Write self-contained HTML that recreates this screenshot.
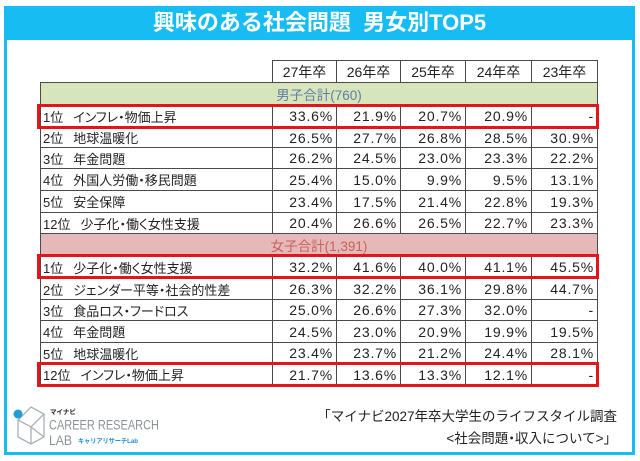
<!DOCTYPE html>
<html><head><meta charset="utf-8">
<style>
*{margin:0;padding:0;box-sizing:border-box}
html,body{width:640px;height:461px;background:#fff;overflow:hidden}
body{position:relative;font-family:"Liberation Sans","Noto Sans CJK JP",sans-serif;color:#222}
.frame{position:absolute;left:4px;top:6px;width:631px;height:449px;border:3px solid #17bdf2;}
.title{position:absolute;left:4px;top:6px;width:631px;height:34px;background:#17bdf2;color:#fff;font-size:22px;font-weight:bold;text-align:center;line-height:33px;white-space:pre;font-family:"Liberation Sans","Noto Sans CJK JP",sans-serif}
table{position:absolute;left:40px;top:60px;border-collapse:collapse;table-layout:fixed;width:557px}
td{border:1px solid #4a4a4a;white-space:nowrap;overflow:hidden;padding:0;vertical-align:middle}
td.l{font-size:13px;padding-left:2px;font-feature-settings:"palt";}
td.n{font-size:14px;text-align:right;padding-right:3px;letter-spacing:0.8px;font-family:"Liberation Sans",sans-serif}
td.h{font-size:14px;text-align:center;font-feature-settings:"palt"}
td.e{border:none}
tr.mb td{background:#d8e4bc;color:#5f7ea6;text-align:center;font-size:13.5px}
tr.fb td{background:#e6b9b8;color:#c6615c;text-align:center;font-size:13.5px}
.sp{display:inline-block;width:10px}
.rb{position:absolute;border:3px solid #e3141b;left:37px;width:562px}
.foot{position:absolute;right:23px;font-size:13.5px;text-align:right;white-space:nowrap;color:#222}
.dot{font-feature-settings:"palt"}
</style></head><body>
<div class="frame"></div>
<div class="title">興味のある社会問題  男女別TOP5</div>
<table>
<colgroup><col style="width:232px"><col style="width:64px"><col style="width:64px"><col style="width:65px"><col style="width:66px"><col style="width:66px"></colgroup>
<tr style="height:22px"><td class="e"></td><td class="h">27年卒</td><td class="h">26年卒</td><td class="h">25年卒</td><td class="h">24年卒</td><td class="h">23年卒</td></tr>
<tr class="mb" style="height:22px"><td colspan="6">男子合計(760)</td></tr>
<tr style="height:23px"><td class="l">1位<span class="sp"></span>インフレ・物価上昇</td><td class="n">33.6%</td><td class="n">21.9%</td><td class="n">20.7%</td><td class="n">20.9%</td><td class="n">-</td></tr>
<tr style="height:20px"><td class="l">2位<span class="sp"></span>地球温暖化</td><td class="n">26.5%</td><td class="n">27.7%</td><td class="n">26.8%</td><td class="n">28.5%</td><td class="n">30.9%</td></tr>
<tr style="height:21px"><td class="l">3位<span class="sp"></span>年金問題</td><td class="n">26.2%</td><td class="n">24.5%</td><td class="n">23.0%</td><td class="n">23.3%</td><td class="n">22.2%</td></tr>
<tr style="height:22px"><td class="l">4位<span class="sp"></span>外国人労働・移民問題</td><td class="n">25.4%</td><td class="n">15.0%</td><td class="n">9.9%</td><td class="n">9.5%</td><td class="n">13.1%</td></tr>
<tr style="height:22px"><td class="l">5位<span class="sp"></span>安全保障</td><td class="n">23.4%</td><td class="n">17.5%</td><td class="n">21.4%</td><td class="n">22.8%</td><td class="n">19.3%</td></tr>
<tr style="height:21px"><td class="l">12位<span class="sp"></span>少子化・働く女性支援</td><td class="n">20.4%</td><td class="n">26.6%</td><td class="n">26.5%</td><td class="n">22.7%</td><td class="n">23.3%</td></tr>
<tr class="fb" style="height:22px"><td colspan="6">女子合計(1,391)</td></tr>
<tr style="height:23px"><td class="l">1位<span class="sp"></span>少子化・働く女性支援</td><td class="n">32.2%</td><td class="n">41.6%</td><td class="n">40.0%</td><td class="n">41.1%</td><td class="n">45.5%</td></tr>
<tr style="height:21px"><td class="l">2位<span class="sp"></span>ジェンダー平等・社会的性差</td><td class="n">26.3%</td><td class="n">32.2%</td><td class="n">36.1%</td><td class="n">29.8%</td><td class="n">44.7%</td></tr>
<tr style="height:21px"><td class="l">3位<span class="sp"></span>食品ロス・フードロス</td><td class="n">25.0%</td><td class="n">26.6%</td><td class="n">27.3%</td><td class="n">32.0%</td><td class="n">-</td></tr>
<tr style="height:22px"><td class="l">4位<span class="sp"></span>年金問題</td><td class="n">24.5%</td><td class="n">23.0%</td><td class="n">20.9%</td><td class="n">19.9%</td><td class="n">19.5%</td></tr>
<tr style="height:21px"><td class="l">5位<span class="sp"></span>地球温暖化</td><td class="n">23.4%</td><td class="n">23.7%</td><td class="n">21.2%</td><td class="n">24.4%</td><td class="n">28.1%</td></tr>
<tr style="height:22px"><td class="l">12位<span class="sp"></span>インフレ・物価上昇</td><td class="n">21.7%</td><td class="n">13.6%</td><td class="n">13.3%</td><td class="n">12.1%</td><td class="n">-</td></tr>
</table>
<div class="rb" style="top:104px;height:25px"></div>
<div class="rb" style="top:254px;height:25px"></div>
<div class="rb" style="top:362px;height:25px"></div>

<svg style="position:absolute;left:0;top:395px" width="180" height="60" viewBox="0 395 180 60">
  <g fill="none" stroke="#a9b0b5" stroke-width="1.3">
    <polygon points="31,407 44,414 44,437 31,444 18,437 18,420"/>
    <polyline points="18,420 31,427 44,414"/>
    <line x1="31" y1="427" x2="31" y2="444"/>
    <line x1="31" y1="427" x2="44" y2="437"/>
  </g>
  <circle cx="18" cy="414" r="4.5" fill="#1e9fd9"/>
  <text x="50" y="414" font-family="Liberation Sans,Noto Sans CJK JP,sans-serif" font-size="6.5" font-weight="bold" fill="#222">マイナビ</text>
  <text x="49" y="429.5" font-family="Liberation Sans,sans-serif" font-size="13.5" fill="#8c9196" textLength="110" lengthAdjust="spacingAndGlyphs">CAREER RESEARCH</text>
  <text x="49" y="445" font-family="Liberation Sans,sans-serif" font-size="13.5" fill="#8c9196" textLength="23" lengthAdjust="spacingAndGlyphs">LAB</text>
  <text x="78" y="443" font-family="Liberation Sans,Noto Sans CJK JP,sans-serif" font-size="6.5" font-weight="bold" fill="#1e8fd0" textLength="60" lengthAdjust="spacingAndGlyphs">キャリアリサーチLab</text>
</svg>

<div class="foot" style="top:405px">「マイナビ2027年卒大学生のライフスタイル調査</div>
<div class="foot" style="top:427px">&lt;社会問題<span class="dot">・</span>収入について&gt;」</div>
</body></html>
